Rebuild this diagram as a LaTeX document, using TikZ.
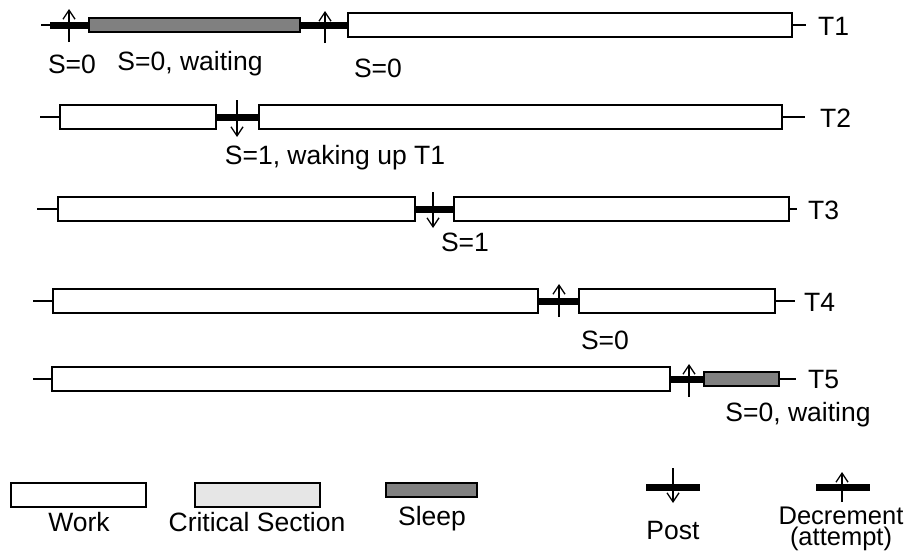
\documentclass[tikz,border=0pt]{standalone}
\usepackage{fontspec}
\setmainfont{Liberation Sans}
\usetikzlibrary{arrows.meta}
\definecolor{sleepgray}{RGB}{128,128,128}
\definecolor{csgray}{RGB}{230,230,230}
\begin{document}
\begin{tikzpicture}[x=1pt,y=-1pt,
  boxbase/.style={draw, line width=1.2pt, inner sep=0pt, outer sep=0pt, anchor=west},
  workbox/.style={boxbase, fill=white, minimum height=24pt},
  sleepbox/.style={boxbase, fill=sleepgray, minimum height=14pt},
  csbox/.style={boxbase, fill=csgray, minimum height=24pt},
  barline/.style={line width=7pt},
  tailline/.style={line width=2pt},
  arrowline/.style={line width=1.3pt, -{Straight Barb[length=9pt,width=12pt,line width=1.3pt]}},
  lbl/.style={font=\fontsize{26.5}{28}\selectfont, inner sep=0pt},
  tname/.style={lbl, anchor=west}]
\useasboundingbox (0,0) rectangle (909,554);

% ---------- T1 ----------
\coordinate (t1start) at (41,25);
\coordinate (t1bar) at (50,25);
\node[sleepbox, minimum width=211pt] (t1s) at (89,25) {};
\node[workbox, minimum width=444pt] (t1w) at (348,25) {};
\coordinate (t1end) at (806,25);
\draw[tailline] (t1start) -- (t1bar);
\draw[barline] (t1bar) -- (t1s.west);
\draw[barline] (t1s.east) -- (t1w.west);
\draw[tailline] (t1w.east) -- (t1end);
\draw[arrowline] (69,42) -- (69,9);
\draw[arrowline] (325,43) -- (325,11);
\node[tname] (T1) at (818,26) {T1};
\node[lbl] (l1a) at (72,64) {S=0};
\node[lbl] (l1b) at (190,64) {S=0, waiting};
\node[lbl] (l1c) at (378,68) {S=0};

% ---------- T2 ----------
\coordinate (t2start) at (40,117);
\node[workbox, minimum width=156pt] (t2a) at (60,117) {};
\node[workbox, minimum width=523pt] (t2b) at (259,117) {};
\coordinate (t2end) at (805,117);
\draw[tailline] (t2start) -- (t2a.west);
\draw[barline] (t2a.east) -- (t2b.west);
\draw[tailline] (t2b.east) -- (t2end);
\draw[arrowline] (237,100) -- (237,137);
\node[tname] (T2) at (820,118) {T2};
\node[lbl] (l2) at (335,158) {S=1, waking up T1};

% ---------- T3 ----------
\coordinate (t3start) at (37,209);
\node[workbox, minimum width=357pt] (t3a) at (58,209) {};
\node[workbox, minimum width=335pt] (t3b) at (454,209) {};
\coordinate (t3end) at (797,209);
\draw[tailline] (t3start) -- (t3a.west);
\draw[barline] (t3a.east) -- (t3b.west);
\draw[tailline] (t3b.east) -- (t3end);
\draw[arrowline] (433,192) -- (433,228);
\node[tname] (T3) at (808,210) {T3};
\node[lbl] (l3) at (465,242) {S=1};

% ---------- T4 ----------
\coordinate (t4start) at (33,301);
\node[workbox, minimum width=485pt] (t4a) at (53,301) {};
\node[workbox, minimum width=196pt] (t4b) at (579,301) {};
\coordinate (t4end) at (795,301);
\draw[tailline] (t4start) -- (t4a.west);
\draw[barline] (t4a.east) -- (t4b.west);
\draw[tailline] (t4b.east) -- (t4end);
\draw[arrowline] (559,317) -- (559,284);
\node[tname] (T4) at (804,302) {T4};
\node[lbl] (l4) at (605,340) {S=0};

% ---------- T5 ----------
\coordinate (t5start) at (33,379);
\node[workbox, minimum width=618pt] (t5a) at (52,379) {};
\node[sleepbox, minimum width=75pt] (t5s) at (704,379) {};
\coordinate (t5end) at (796,379);
\draw[tailline] (t5start) -- (t5a.west);
\draw[barline] (t5a.east) -- (t5s.west);
\draw[tailline] (t5s.east) -- (t5end);
\draw[arrowline] (689,397) -- (689,364);
\node[tname] (T5) at (808,380) {T5};
\node[lbl] (l5) at (798,415) {S=0, waiting};

% ---------- Legend ----------
\node[workbox, minimum width=135pt] (lgw) at (11,495) {};
\node[lbl] (lgwt) at (79,522) {Work};
\node[csbox, minimum width=125pt] (lgc) at (195,495) {};
\node[lbl] (lgct) at (257,522) {Critical Section};
\node[sleepbox, minimum width=91pt] (lgs) at (386,490) {};
\node[lbl] (lgst) at (432,519) {Sleep};
\coordinate (lgpa) at (646,487);
\coordinate (lgpb) at (700,487);
\draw[barline] (lgpa) -- (lgpb);
\draw[arrowline] (673,468) -- (673,503);
\node[lbl] (lgpt) at (673,531) {Post};
\coordinate (lgda) at (816,487);
\coordinate (lgdb) at (870,487);
\draw[barline] (lgda) -- (lgdb);
\draw[arrowline] (842,502) -- (842,472);
\node[lbl, font=\fontsize{25.5}{27}\selectfont] (lgdt) at (841,516) {Decrement};
\node[lbl, font=\fontsize{25.5}{27}\selectfont, anchor=north, yshift=-1.5pt] (lgdt2) at (lgdt.south) {(attempt)};
\end{tikzpicture}
\end{document}
